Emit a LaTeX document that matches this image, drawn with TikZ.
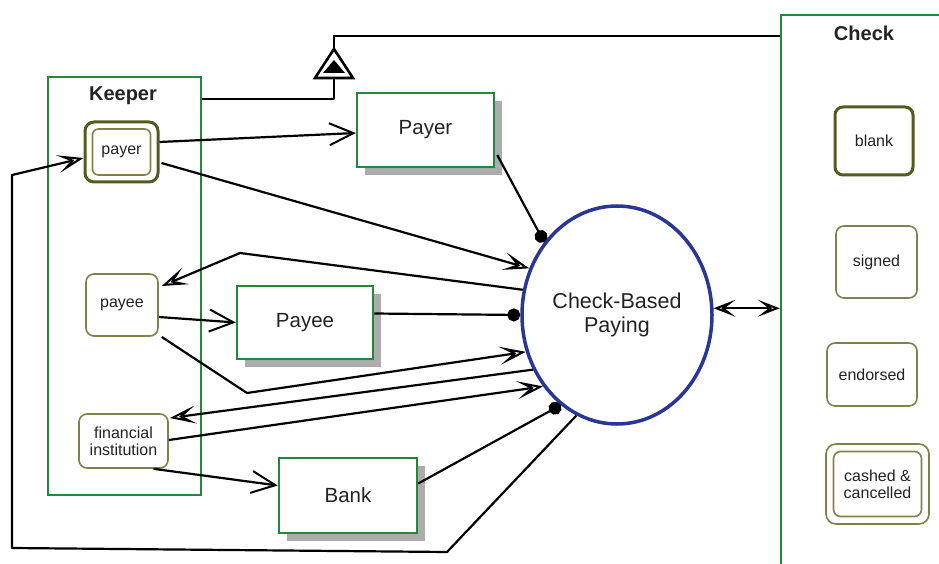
\documentclass[tikz,border=0pt]{standalone}
\usepackage{fontspec}
\setmainfont{Liberation Sans}
\usetikzlibrary{shapes.geometric,arrows.meta,calc,shadows}
\definecolor{boxgreen}{RGB}{35,135,60}
\definecolor{olivedark}{RGB}{85,90,30}
\definecolor{olivelight}{RGB}{130,128,75}
\definecolor{cbpblue}{RGB}{40,55,150}
\definecolor{shadowgray}{RGB}{172,172,172}
\definecolor{txt}{RGB}{35,35,35}
\begin{document}
\begin{tikzpicture}[x=1pt,y=-1pt,
  conn/.style={line width=2.2pt, line join=round, draw=black},
  hollow/.style={conn, -{Stealth[open, length=26pt, width=18pt, inset=13pt, line width=2pt]}},
  barb/.style={conn, -{Straight Barb[length=24pt, width=22pt, line width=2pt]}},
  dotend/.style={conn, -{Circle[length=13pt]}},
  both/.style={conn, {Stealth[open, length=22pt, width=17pt, inset=11pt, line width=2pt]}-{Stealth[open, length=22pt, width=17pt, inset=11pt, line width=2pt]}},
  container/.style={draw=boxgreen, line width=2.5pt, inner sep=0pt},
  title/.style={font=\fontsize{20}{22}\selectfont\bfseries, text=txt},
  entity/.style={draw=boxgreen, line width=2.5pt, fill=white, inner sep=0pt,
    font=\fontsize{20.5}{22}\selectfont, text=txt,
    drop shadow={shadow xshift=8pt, shadow yshift=-8pt, fill=shadowgray, opacity=1}},
  stbox/.style={draw=olivelight, line width=1.6pt, rounded corners=8pt, fill=white, inner sep=0pt,
    align=center, font=\fontsize{16}{17}\selectfont, text=txt},
  stthick/.style={stbox, draw=olivedark, line width=3pt},
  process/.style={ellipse, draw=cbpblue, line width=3.5pt, fill=white, inner sep=0pt,
    align=center, font=\fontsize{21.5}{24}\selectfont, text=txt}
]
\useasboundingbox (0,0) rectangle (939,564);
\clip (0,0) rectangle (939,564);
\fill[white] (0,0) rectangle (939,564);

% containers
\node[container, minimum width=153pt, minimum height=418pt] (keeper) at (124.5,286) {};
\node[title] (keeperT) at (123,96) {Keeper};
\node[container, minimum width=185pt, minimum height=600pt] (check) at (873.5,315) {};
\node[title] (checkT) at (864,33) {Check};

% keeper states
\node[stthick, minimum width=73pt, minimum height=60pt, rounded corners=9pt] (payer) at (121.5,152) {};
\node[stbox, minimum width=58pt, minimum height=46pt, rounded corners=6pt] (payerIn) at (121.5,152) {payer};
\node[stbox, minimum width=72pt, minimum height=62pt] (payee) at (122,305) {payee};
\node[stbox, minimum width=89pt, minimum height=54pt] (fin) at (123.5,441) {financial\\institution};

% check states
\node[stthick, minimum width=78pt, minimum height=68pt] (blank) at (874,141) {blank};
\node[stbox, minimum width=81pt, minimum height=72pt] (signed) at (876.5,262) {signed};
\node[stbox, minimum width=90pt, minimum height=63pt] (endorsed) at (872,374.5) {endorsed};
\node[stbox, minimum width=103pt, minimum height=80pt, rounded corners=10pt] (cashed) at (877.5,484) {};
\node[stbox, minimum width=88pt, minimum height=65pt, rounded corners=7pt] (cashedIn) at (877.5,484) {cashed \&\\cancelled};

% entities
\node[entity, minimum width=137pt, minimum height=74pt] (PayerB) at (425.5,130) {Payer};
\node[entity, minimum width=136pt, minimum height=73pt] (PayeeB) at (305,322.5) {Payee};
\node[entity, minimum width=138pt, minimum height=75pt] (BankB) at (348,495.5) {Bank};

% process
\node[process, minimum width=190pt, minimum height=218pt] (cbp) at (617,315) {Check-Based\\Paying};

% aggregation triangle
\coordinate (triTop) at (334,49);
\coordinate (triBot) at (334,78);
\coordinate (kj) at (334,99);
\coordinate (tj) at (334,36);
\draw[line width=2.6pt, fill=white, line join=miter] (triTop) -- (353,78) -- (315,78) -- cycle;
\fill[black] (334,60) -- (345,73) -- (323,73) -- cycle;
\draw[conn] (kj -| keeper.east) -- (kj) -- (triBot);
\draw[conn] (triTop) -- (tj) -- (tj -| check.west);

% connectors
\draw[barb] ($(payer.east)+(0,-10)$) -- ($(PayerB.west)+(0,3)$);
\draw[hollow] ($(payer.east)+(2,11)$) -- (cbp.152);
\draw[dotend] ($(PayerB.east)+(2,25)$) -- (cbp.135.5);

\coordinate (pe1) at (240,253);
\draw[hollow] (cbp.165) -- (pe1) -- ($(payee.east)+(3,-19)$);
\draw[barb] ($(payee.east)+(0,12)$) -- (PayeeB.west);
\draw[dotend] ($(PayeeB.east)+(0,-9)$) -- (cbp.180.5);
\coordinate (pe2) at (247,393);
\draw[hollow] ($(payee.east)+(3,32)$) -- (pe2) -- (cbp.202.5);

\draw[hollow] (cbp.213) -- ($(fin.east)+(1,-23)$);
\draw[hollow] ($(fin.east)+(0,-1)$) -- (cbp.224.6);
\draw[barb] ($(fin.south)+(30,0)$) -- ($(BankB.west)+(0,-10)$);
\draw[dotend] ($(BankB.east)+(0,-12)$) -- (cbp.238);

\coordinate (b1) at (447,552);
\coordinate (b2) at (12,548);
\coordinate (b3) at (12,175);
\draw[hollow] (cbp.248.6) -- (b1) -- (b2) -- (b3) -- ($(payer.west)+(0,6)$);

\draw[both] (cbp.4) -- (cbp.4 -| check.west);
\end{tikzpicture}
\end{document}
